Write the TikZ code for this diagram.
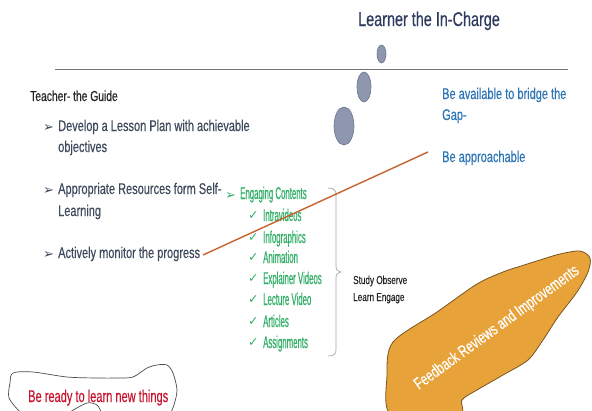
\documentclass[tikz,border=0pt]{standalone}
\usepackage{fontspec}
\setmainfont{Liberation Sans}[FakeStretch=0.71, FakeBold=0.35]
\newfontfamily\titlefont{Liberation Sans}[FakeStretch=0.72, FakeBold=0.4]
\newfontfamily\redfont{Liberation Sans}[FakeStretch=0.65, FakeBold=0.35]
\newfontfamily\narrowfont{Liberation Sans}[FakeStretch=0.46, FakeBold=0.6]
\newfontfamily\symfont{DejaVu Sans}
\usetikzlibrary{shapes.geometric}
\definecolor{titlenavy}{HTML}{2E3B5E}
\definecolor{bodygray}{HTML}{3E4A5C}
\definecolor{bodyblue}{HTML}{2E75B6}
\definecolor{engreen}{HTML}{35B06A}
\definecolor{linorange}{HTML}{C6622E}
\definecolor{blobfill}{HTML}{E8A23A}
\definecolor{blobedge}{HTML}{7A5520}
\definecolor{dotfill}{HTML}{8E97AD}
\definecolor{dotedge}{HTML}{6B7591}
\definecolor{redtext}{HTML}{C8142E}
\tikzset{
  txt/.style={anchor=base west, inner sep=0pt, font=\fontsize{15.5}{17}\selectfont},
  bul/.style={anchor=base west, inner sep=0pt, text=bodygray, font=\symfont\fontsize{13}{14}\selectfont},
  grn/.style={anchor=base west, inner sep=0pt, text=engreen, font=\narrowfont\fontsize{17}{19}\selectfont},
  chk/.style={anchor=base west, inner sep=0pt, text=engreen, font=\symfont\bfseries\fontsize{12.5}{14}\selectfont},
  dot/.style={ellipse, draw=dotedge, fill=dotfill, line width=0.6pt, inner sep=0pt}
}
\begin{document}
\begin{tikzpicture}[x=1pt,y=-1pt]
\useasboundingbox (0,0) rectangle (592,410);
\fill[white] (0,0) rectangle (592,410);

% title and rule
\node[anchor=base west, inner sep=0pt, text=titlenavy, font=\titlefont\fontsize{20}{22}\selectfont] (title) at (358,26) {Learner the In-Charge};
\coordinate (rl) at (55,69.5);
\coordinate (rr) at (568,69.5);
\draw[gray!90!black, line width=1.6pt] (rl) -- (rr);

% ellipses
\node[dot, minimum width=9pt, minimum height=18pt] (e1) at (381.5,54) {};
\node[dot, minimum width=14pt, minimum height=30pt] (e2) at (364,87) {};
\node[dot, minimum width=20pt, minimum height=38pt] (e3) at (344,126) {};

% teacher
\node[anchor=base west, inner sep=0pt, font=\fontsize{14.5}{16}\selectfont, text=black!85] (teach) at (30,101) {Teacher- the Guide};
\node[bul] (u1) at (43,131) {➢};
\node[txt, text=bodygray] (b1) at (58,131) {Develop a Lesson Plan with achievable};
\node[txt, text=bodygray] (b1b) at (58,152) {objectives};
\node[bul] (u2) at (43,194) {➢};
\node[txt, text=bodygray] (b2) at (58,194) {Appropriate Resources form Self-};
\node[txt, text=bodygray] (b2b) at (58,216) {Learning};
\node[bul] (u3) at (43,258) {➢};
\node[txt, text=bodygray] (b3) at (58,258) {Actively monitor the progress};

% learner side
\node[txt, text=bodyblue] (g1) at (442,99) {Be available to bridge the};
\node[txt, text=bodyblue] (g1b) at (442,120) {Gap-};
\node[txt, text=bodyblue] (g2) at (442,162) {Be approachable};

% green list
\node[bul, text=engreen] (gu) at (225,199) {➢};
\node[grn] (eng) at (240,199) {Engaging Contents};
\foreach \nm/\yy/\tx in {c1/221/Intravideos, c2/243/Infographics, c3/263/Animation, c4/284/Explainer Videos, c5/305/Lecture Video, c6/327/Articles, c7/348/Assignments}{
  \node[chk] (k\nm) at (248,\yy-2) {✓};
  \node[grn] (\nm) at (263,\yy) {\tx};
}

% bracket
\draw[gray!70, line width=0.7pt] (328,188) .. controls (334,188) and (336,190) .. (336,195)
  -- (336,266) .. controls (336,270) and (338,272) .. (341,272)
  .. controls (338,272) and (336,274) .. (336,278)
  -- (336,350) .. controls (336,354) and (334,356) .. (328,356);
\node[anchor=base west, inner sep=0pt, font=\fontsize{11.5}{13}\selectfont, text=black!85] (so) at (353,284) {Study Observe};
\node[anchor=base west, inner sep=0pt, font=\fontsize{11.5}{13}\selectfont, text=black!85] (le) at (353,301) {Learn Engage};

% orange connector
\coordinate (ls) at (203,255);
\coordinate (le2) at (428,152);
\draw[linorange, line width=1.4pt] (ls) -- (le2);

% blob
\draw[blobedge, fill=blobfill, line width=0.8pt, line join=round]
  plot[smooth cycle, tension=0.5] coordinates {
  (393,342) (437,312) (477,284) (503,272) (521,266) (540,260) (560,254) (580,251)
  (590,258) (588,272) (577,292) (558,317) (543,340) (528,360) (503,375) (477,390)
  (462,400) (458,416) (392,416) (387,375)};
\node[text=white, rotate=36, inner sep=0pt, font=\fontsize{16.5}{18}\selectfont] (fb) at (497,328) {Feedback Reviews and Improvements};

% red hand-drawn note
\draw[black!70, line width=0.7pt] plot[smooth, tension=0.5] coordinates {
  (20,412) (9,398) (10,383) (13,373) (33,372) (67,377) (97,378) (117,378) (133,377)
  (147,368) (157,365) (167,365) (173,373) (177,390) (174,405) (171,412)};
\draw[black!70, line width=0.7pt] plot[smooth, tension=0.5] coordinates {
  (70,412) (87,403) (97,405) (101,412)};
\node[anchor=base west, inner sep=0pt, text=redtext, font=\redfont\fontsize{17}{19}\selectfont] (red) at (28,402) {Be ready to learn new things};
\end{tikzpicture}
\end{document}
